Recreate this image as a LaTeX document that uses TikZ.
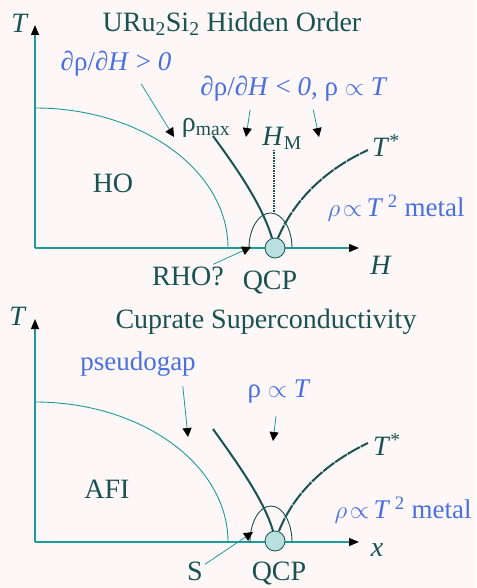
\documentclass[tikz,border=0pt]{standalone}
\usepackage{fontspec}
\setmainfont{Liberation Serif}
\usetikzlibrary{arrows.meta}
\definecolor{hoTeal}{HTML}{1F9A9A}
\definecolor{hoDark}{HTML}{1A5252}
\definecolor{hoBlue}{HTML}{4A6FE0}
\definecolor{hoQcp}{HTML}{B9E0E0}
\definecolor{hoBack}{HTML}{FDF7F7}

\begin{document}
\begin{tikzpicture}[x=1pt, y=-1pt,
  axis/.style={draw=hoTeal, line width=1.2pt, -{Triangle[length=10pt, width=8pt, color=black]}},
  phase/.style={draw=hoTeal, line width=0.9pt},
  cross/.style={draw=hoDark, line width=2pt},
  pointer/.style={draw=hoTeal, line width=0.8pt, -{Triangle[length=9pt, width=9pt, color=black]}},
  lbl/.style={text=hoDark, font=\fontsize{28}{32}\selectfont, inner sep=2pt},
  note/.style={text=hoBlue, font=\fontsize{27}{30}\selectfont, inner sep=2pt},
  qcp/.style={circle, draw=hoDark, line width=0.8pt, fill=hoQcp, minimum size=20pt, inner sep=0pt}]
\useasboundingbox[fill=hoBack] (0,0) rectangle (476,588);

% URu2Si2 panel
\coordinate (o1) at (35,248);
\coordinate (tend1) at (35,25);
\coordinate (hend1) at (359,248);
\draw[axis] (o1) -- (tend1);
\draw[axis] (o1) -- (hend1);
\node[lbl] (t1) at (20,23) {\textit{T}};
\node[lbl] (h1) at (381,265) {\textit{H}};
\node[lbl] (title1) at (232,24) {URu\textsubscript{2}Si\textsubscript{2} Hidden Order};
\draw[phase] (35,108) arc[start angle=-90, end angle=0, x radius=193, y radius=140];
\node[lbl] (ho) at (113,183) {HO};
\draw[cross] (213,136) .. controls (238,170) and (262,205) .. (272,238);
\draw[cross, line width=1.5pt, dash pattern=on 1.5pt off 1pt] (274,150) -- (274,212);
\draw[phase, draw=hoDark] (249,248) arc[start angle=-180, end angle=0, x radius=21.5, y radius=35];
\draw[cross, dash pattern=on 14pt off 1pt] (278,238) .. controls (292,205) and (320,172) .. (368,150);
\node[qcp] (qcp1) at (275,248) {};
\node[lbl] (tstar1) at (386,146) {\textit{T}\textsuperscript{*}};
\node[note] (metal1) at (396,208) {$\rho\!\propto$\,\textit{T}\,\textsuperscript{2} metal};
\node[lbl] (rho1) at (188,276) {RHO?};
\coordinate (rhotip1) at (251,247);
\draw[pointer] (rho1) -- (rhotip1);
\node[lbl] (qcplbl1) at (270,282) {QCP};
\node[note] (pos1) at (116,64) {∂ρ/∂\textit{H} > \textit{0}};
\coordinate (postip1) at (174,137);
\draw[pointer, shorten <=6pt] ([xshift=22pt]pos1.south) -- (postip1);
\node[lbl] (rmax1) at (206,128) {ρ\textsubscript{max}};
\node[lbl] (hm1) at (282,138) {\textit{H}\textsubscript{M}};
\node[note] (neg1) at (294,89) {∂ρ/∂\textit{H} < \textit{0}, ρ $\propto$ \textit{T}};
\coordinate (negtipa1) at (246,137);
\coordinate (negtipb1) at (319,137);
\draw[pointer, shorten <=6pt] ([xshift=-43pt]neg1.south) -- (negtipa1);
\draw[pointer, shorten <=6pt] ([xshift=18pt]neg1.south) -- (negtipb1);

% cuprate panel
\coordinate (o2) at (35,542);
\coordinate (tend2) at (35,319);
\coordinate (xend2) at (359,542);
\draw[axis] (o2) -- (tend2);
\draw[axis] (o2) -- (xend2);
\node[lbl] (t2) at (18,316) {\textit{T}};
\node[lbl] (x2) at (377,550) {\textit{x}};
\node[lbl] (title2) at (266,322) {Cuprate Superconductivity};
\draw[phase] (35,402) arc[start angle=-90, end angle=0, x radius=193, y radius=140];
\node[lbl] (afi) at (107,489) {AFI};
\draw[cross] (213,429) .. controls (238,464) and (264,500) .. (273,531);
\draw[phase, draw=hoDark] (250,542) arc[start angle=-180, end angle=0, x radius=21, y radius=36];
\draw[cross, dash pattern=on 14pt off 1pt] (279,531) .. controls (292,498) and (320,466) .. (368,443);
\node[qcp] (qcp2) at (275,541) {};
\node[lbl] (tstar2) at (387,445) {\textit{T}\textsuperscript{*}};
\node[note] (metal2) at (403,510) {$\rho\!\propto$\,\textit{T}\,\textsuperscript{2} metal};
\node[lbl] (s2) at (195,571) {S};
\coordinate (stip2) at (253,532);
\draw[pointer] (s2) -- (stip2);
\node[lbl, inner sep=0pt] (qcplbl2) at (279,573) {QCP};
\node[note] (pg2) at (138,364) {pseudogap};
\coordinate (pgtip2) at (188,437);
\draw[pointer, shorten <=8pt] ([xshift=44pt]pg2.south) -- (pgtip2);
\node[note] (lin2) at (279,392) {ρ $\propto$ \textit{T}};
\coordinate (lintip2) at (273,441);
\draw[pointer, shorten <=10pt] (lin2) -- (lintip2);
\end{tikzpicture}
\end{document}
